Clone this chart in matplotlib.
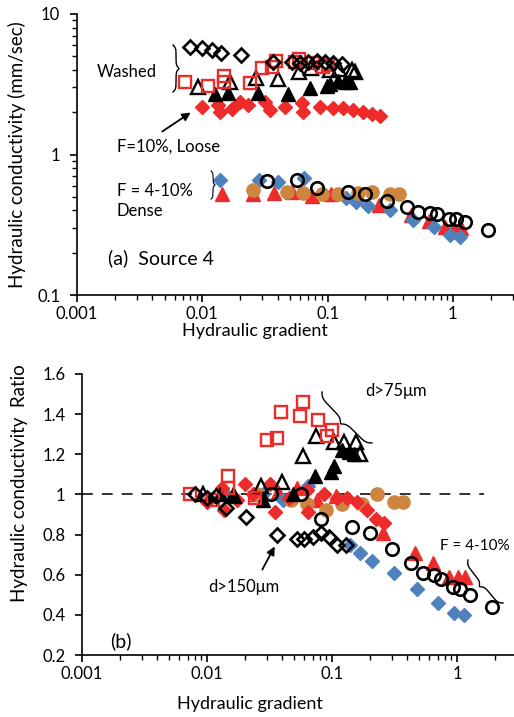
import numpy as np
import matplotlib
matplotlib.use("Agg")
import matplotlib.pyplot as plt
from matplotlib.lines import Line2D
from matplotlib.ticker import LogLocator, FuncFormatter, NullFormatter, MultipleLocator

plt.rcParams['font.family'] = ['Lato', 'DejaVu Sans']

# ---------------- data: panel (a) hydraulic conductivity (mm/sec) ----------------
# Washed: open black diamonds (d>150um)
wd_i = [0.0080, 0.0100, 0.0119, 0.0141, 0.0204, 0.0366, 0.052, 0.060, 0.070, 0.082, 0.095, 0.110, 0.130]
wd_k = [5.82, 5.73, 5.55, 5.27, 5.10, 4.55, 4.55, 4.48, 4.55, 4.63, 4.55, 4.48, 4.41]
wd_r = [1.00, 0.98, 0.99, 0.93, 0.89, 0.80, 0.78, 0.78, 0.79, 0.81, 0.79, 0.75, 0.75]
# Washed: open red squares
sq_i = [0.0073, 0.0111, 0.0148, 0.0148, 0.024, 0.030, 0.036, 0.039, 0.055, 0.059, 0.077, 0.092, 0.100]
sq_k = [3.28, 3.05, 3.62, 3.30, 3.22, 4.15, 4.20, 4.65, 4.55, 4.80, 4.50, 4.22, 4.33]
sq_r = [1.00, 0.97, 1.09, 1.03, 0.98, 1.27, 1.28, 1.41, 1.39, 1.46, 1.37, 1.29, 1.32]
# Washed: open black triangles
ot_i = [0.0093, 0.0165, 0.027, 0.040, 0.059, 0.074, 0.104, 0.124, 0.157, 0.166]
ot_k = [3.02, 3.30, 3.50, 3.44, 3.87, 4.13, 4.00, 4.07, 4.00, 3.87]
ot_r = [1.00, 0.99, 1.04, 1.06, 1.19, 1.29, 1.26, 1.26, 1.26, 1.20]
# Washed: filled black triangles
ft_i = [0.0126, 0.016, 0.0278, 0.0484, 0.0726, 0.099, 0.104, 0.121, 0.138, 0.151]
ft_k = [2.70, 2.74, 2.74, 2.70, 2.97, 3.05, 3.15, 3.33, 3.28, 3.30]
ft_r = [1.00, 1.00, 0.97, 1.00, 1.09, 1.11, 1.14, 1.22, 1.21, 1.20]
# F=10%, Loose: filled red diamonds
rd_i = [0.0100, 0.0133, 0.0138, 0.0173, 0.0200, 0.0232, 0.0317, 0.0347, 0.0457, 0.0626, 0.0638,
        0.087, 0.110, 0.133, 0.159, 0.191, 0.225, 0.262]
rd_k = [2.18, 2.25, 2.00, 2.11, 2.37, 2.25, 2.37, 2.07, 2.18, 2.33, 2.00, 2.18, 2.14, 2.14, 2.07,
        2.00, 1.94, 1.88]
rd_r = [0.96, 1.03, 0.92, 0.97, 1.05, 1.00, 1.05, 0.91, 0.98, 1.02, 0.91, 1.00, 0.98, 0.98, 0.96,
        0.92, 0.88, 0.86]
# F = 4-10%, Dense: blue diamonds
bd_i = [0.0138, 0.0283, 0.0402, 0.0648, 0.140, 0.169, 0.210, 0.315, 0.48, 0.707, 0.95, 1.14]
bd_k = [0.659, 0.659, 0.641, 0.68, 0.49, 0.46, 0.43, 0.40, 0.342, 0.305, 0.267, 0.26]
bd_r = [1.00, 1.00, 0.97, 1.04, 0.75, 0.71, 0.67, 0.61, 0.53, 0.46, 0.41, 0.40]
# F = 4-10%, Dense: red triangles
rt_i = [0.0144, 0.0253, 0.0372, 0.052, 0.0753, 0.107, 0.255, 0.46, 0.64, 0.86, 1.02, 1.16]
rt_k = [0.524, 0.524, 0.53, 0.54, 0.51, 0.52, 0.437, 0.371, 0.336, 0.305, 0.30, 0.30]
rt_r = [1.00, 1.00, 1.01, 1.03, 0.97, 0.99, 0.81, 0.71, 0.66, 0.59, 0.59, 0.59]
# F = 4-10%, Dense: orange circles
oc_i = [0.0253, 0.0473, 0.0636, 0.0902, 0.121, 0.175, 0.227, 0.315, 0.37]
oc_k = [0.558, 0.54, 0.53, 0.52, 0.524, 0.53, 0.54, 0.524, 0.524]
oc_r = [1.00, 0.97, 0.95, 0.92, 0.95, 0.95, 1.00, 0.96, 0.96]
# F = 4-10%, Dense: open black circles
bc_i = [0.0327, 0.057, 0.082, 0.145, 0.20, 0.30, 0.43, 0.53, 0.66, 0.75, 0.93, 1.05, 1.26, 1.91]
bc_k = [0.648, 0.66, 0.578, 0.54, 0.52, 0.47, 0.423, 0.39, 0.384, 0.378, 0.35, 0.345, 0.33, 0.29]
bc_r = [1.00, 1.00, 0.88, 0.84, 0.81, 0.73, 0.66, 0.61, 0.60, 0.58, 0.54, 0.53, 0.50, 0.44]

RED = '#EE2B2B'
BLUE = '#4F81BD'
ORANGE = '#CD853F'

W, H = 514, 717
fig = plt.figure(figsize=(W / 100, H / 100), dpi=100)

def px_axes(l, t, r, b):
    return fig.add_axes([l / W, 1 - b / H, (r - l) / W, (b - t) / H])

ax1 = px_axes(77, 14, 514, 295)
ax2 = px_axes(82, 374, 514, 655)

def draw_series(ax, ys):
    (wk, sk, otk, ftk, rdk, bdk, rtk, ock, bck) = ys
    ms = 9.5
    ax.plot(rt_i, rtk, '^', color=RED, ms=ms, ls='none', zorder=3)
    ax.plot(bd_i, bdk, 'D', color=BLUE, ms=ms - 2, ls='none', zorder=3)
    ax.plot(oc_i, ock, 'o', color=ORANGE, ms=ms, ls='none', zorder=3)
    ax.plot(bc_i, bck, 'o', mfc='none', mec='k', mew=1.9, ms=ms - 0.5, ls='none', zorder=4)
    ax.plot(rd_i, rdk, 'D', color=RED, ms=ms - 2, ls='none', zorder=3)
    ax.plot(ft_i, ftk, '^', color='k', ms=ms, ls='none', zorder=3)
    ax.plot(ot_i, otk, '^', mfc='none', mec='k', mew=1.7, ms=ms, ls='none', zorder=4)
    ax.plot(sq_i, sk, 's', mfc='none', mec=RED, mew=1.7, ms=ms - 1, ls='none', zorder=4)
    ax.plot(wd_i, wk, 'D', mfc='none', mec='k', mew=1.9, ms=ms - 2, ls='none', zorder=5)

draw_series(ax1, (wd_k, sq_k, ot_k, ft_k, rd_k, bd_k, rt_k, oc_k, bc_k))
draw_series(ax2, (wd_r, sq_r, ot_r, ft_r, rd_r, bd_r, rt_r, oc_r, bc_r))

fmt = FuncFormatter(lambda v, p: '%g' % v)
for ax in (ax1, ax2):
    ax.set_xscale('log')
    for s in ('top', 'right'):
        ax.spines[s].set_visible(False)
    for s in ('left', 'bottom'):
        ax.spines[s].set_linewidth(1.2)
    ax.xaxis.set_major_locator(LogLocator(base=10, numticks=10))
    ax.xaxis.set_minor_locator(LogLocator(base=10, subs=np.arange(2, 10), numticks=10))
    ax.xaxis.set_major_formatter(fmt)
    ax.xaxis.set_minor_formatter(NullFormatter())
    ax.tick_params(axis='both', which='major', direction='out', length=5, width=1.2, labelsize=12)
    ax.tick_params(axis='both', which='minor', direction='out', length=3.5, width=1.0)
    ax.tick_params(axis='x', pad=3)
    ax.tick_params(axis='y', pad=7)

ax1.set_xlim(0.001, 10 ** ((514 - 77) / 125.3 - 3))
ax1.set_yscale('log')
ax1.set_ylim(0.1, 10)
ax1.yaxis.set_major_locator(LogLocator(base=10, numticks=10))
ax1.yaxis.set_minor_locator(LogLocator(base=10, subs=np.arange(2, 10), numticks=10))
ax1.yaxis.set_major_formatter(fmt)
ax1.yaxis.set_minor_formatter(NullFormatter())

ax2.set_xlim(0.001, 10 ** ((514 - 82) / 125 - 3))
ax2.set_ylim(0.2, 1.6)
ax2.yaxis.set_major_locator(MultipleLocator(0.2))
ax2.yaxis.set_major_formatter(fmt)
ax2.plot([0.001, 1.65], [1, 1], ls=(0, (6, 5)), color='#222222', lw=1.3, zorder=1)

# ---------------- texts ----------------
def ftxt(x, y, s, **kw):
    kw.setdefault('fontsize', 12)
    fig.text(x / W, 1 - y / H, s, **kw)

ftxt(17, 155, 'Hydraulic conductivity (mm/sec)', rotation=90, ha='center', va='center', fontsize=13.5)
ftxt(20, 483, 'Hydraulic conductivity  Ratio', rotation=90, ha='center', va='center', fontsize=13.5)
ftxt(255, 331, 'Hydraulic gradient', ha='center', va='center', fontsize=13)
ftxt(250, 704, 'Hydraulic gradient', ha='center', va='center', fontsize=13)

ftxt(97, 72, 'Washed', ha='left', va='center')
ftxt(117, 147, 'F=10%, Loose', ha='left', va='center')
ftxt(117, 191, 'F = 4-10%', ha='left', va='center')
ftxt(117, 211, 'Dense', ha='left', va='center')
ftxt(108, 258, '(a)  Source 4', ha='left', va='center', fontsize=14)
ftxt(365, 391, 'd>75\u03bcm', ha='left', va='center')
ftxt(208, 587, 'd>150\u03bcm', ha='left', va='center')
ftxt(440, 546, 'F = 4-10%', ha='left', va='center', fontsize=11)
ftxt(110, 641, '(b)', ha='left', va='center', fontsize=14)

def arrow(p0, p1):
    fig.add_artist(matplotlib.patches.FancyArrowPatch(
        (p0[0] / W, 1 - p0[1] / H), (p1[0] / W, 1 - p1[1] / H), transform=fig.transFigure,
        arrowstyle='-|>', mutation_scale=12, color='k', lw=1.3))

arrow((160, 133), (193, 111))
arrow((261, 572), (276, 544))

def brace(p0, p1, depth, lw=1.0):
    p0 = np.array(p0, float)
    p1 = np.array(p1, float)
    d = p1 - p0
    L = np.hypot(*d)
    u = d / L
    n = np.array([u[1], -u[0]])
    t = np.linspace(0, 1, 300)
    s = np.where(t < 0.5, t, 1 - t)
    beta = 30.0
    v = 1 / (1 + np.exp(-beta * s)) + 1 / (1 + np.exp(-beta * (s - 0.5)))
    v = (v - v[0]) / (v.max() - v[0])
    pts = p0 + np.outer(t * L, u) + np.outer(v * depth, n)
    fig.add_artist(Line2D(pts[:, 0] / W, 1 - pts[:, 1] / H, transform=fig.transFigure,
                          color='k', lw=lw))

brace((173, 45), (173, 92), 6)
brace((211, 171), (211, 199), 4, lw=0.8)
brace((322, 392), (372, 443), -9)
brace((468, 560), (503, 603), -8)

fig.savefig('out.png', dpi=100)
